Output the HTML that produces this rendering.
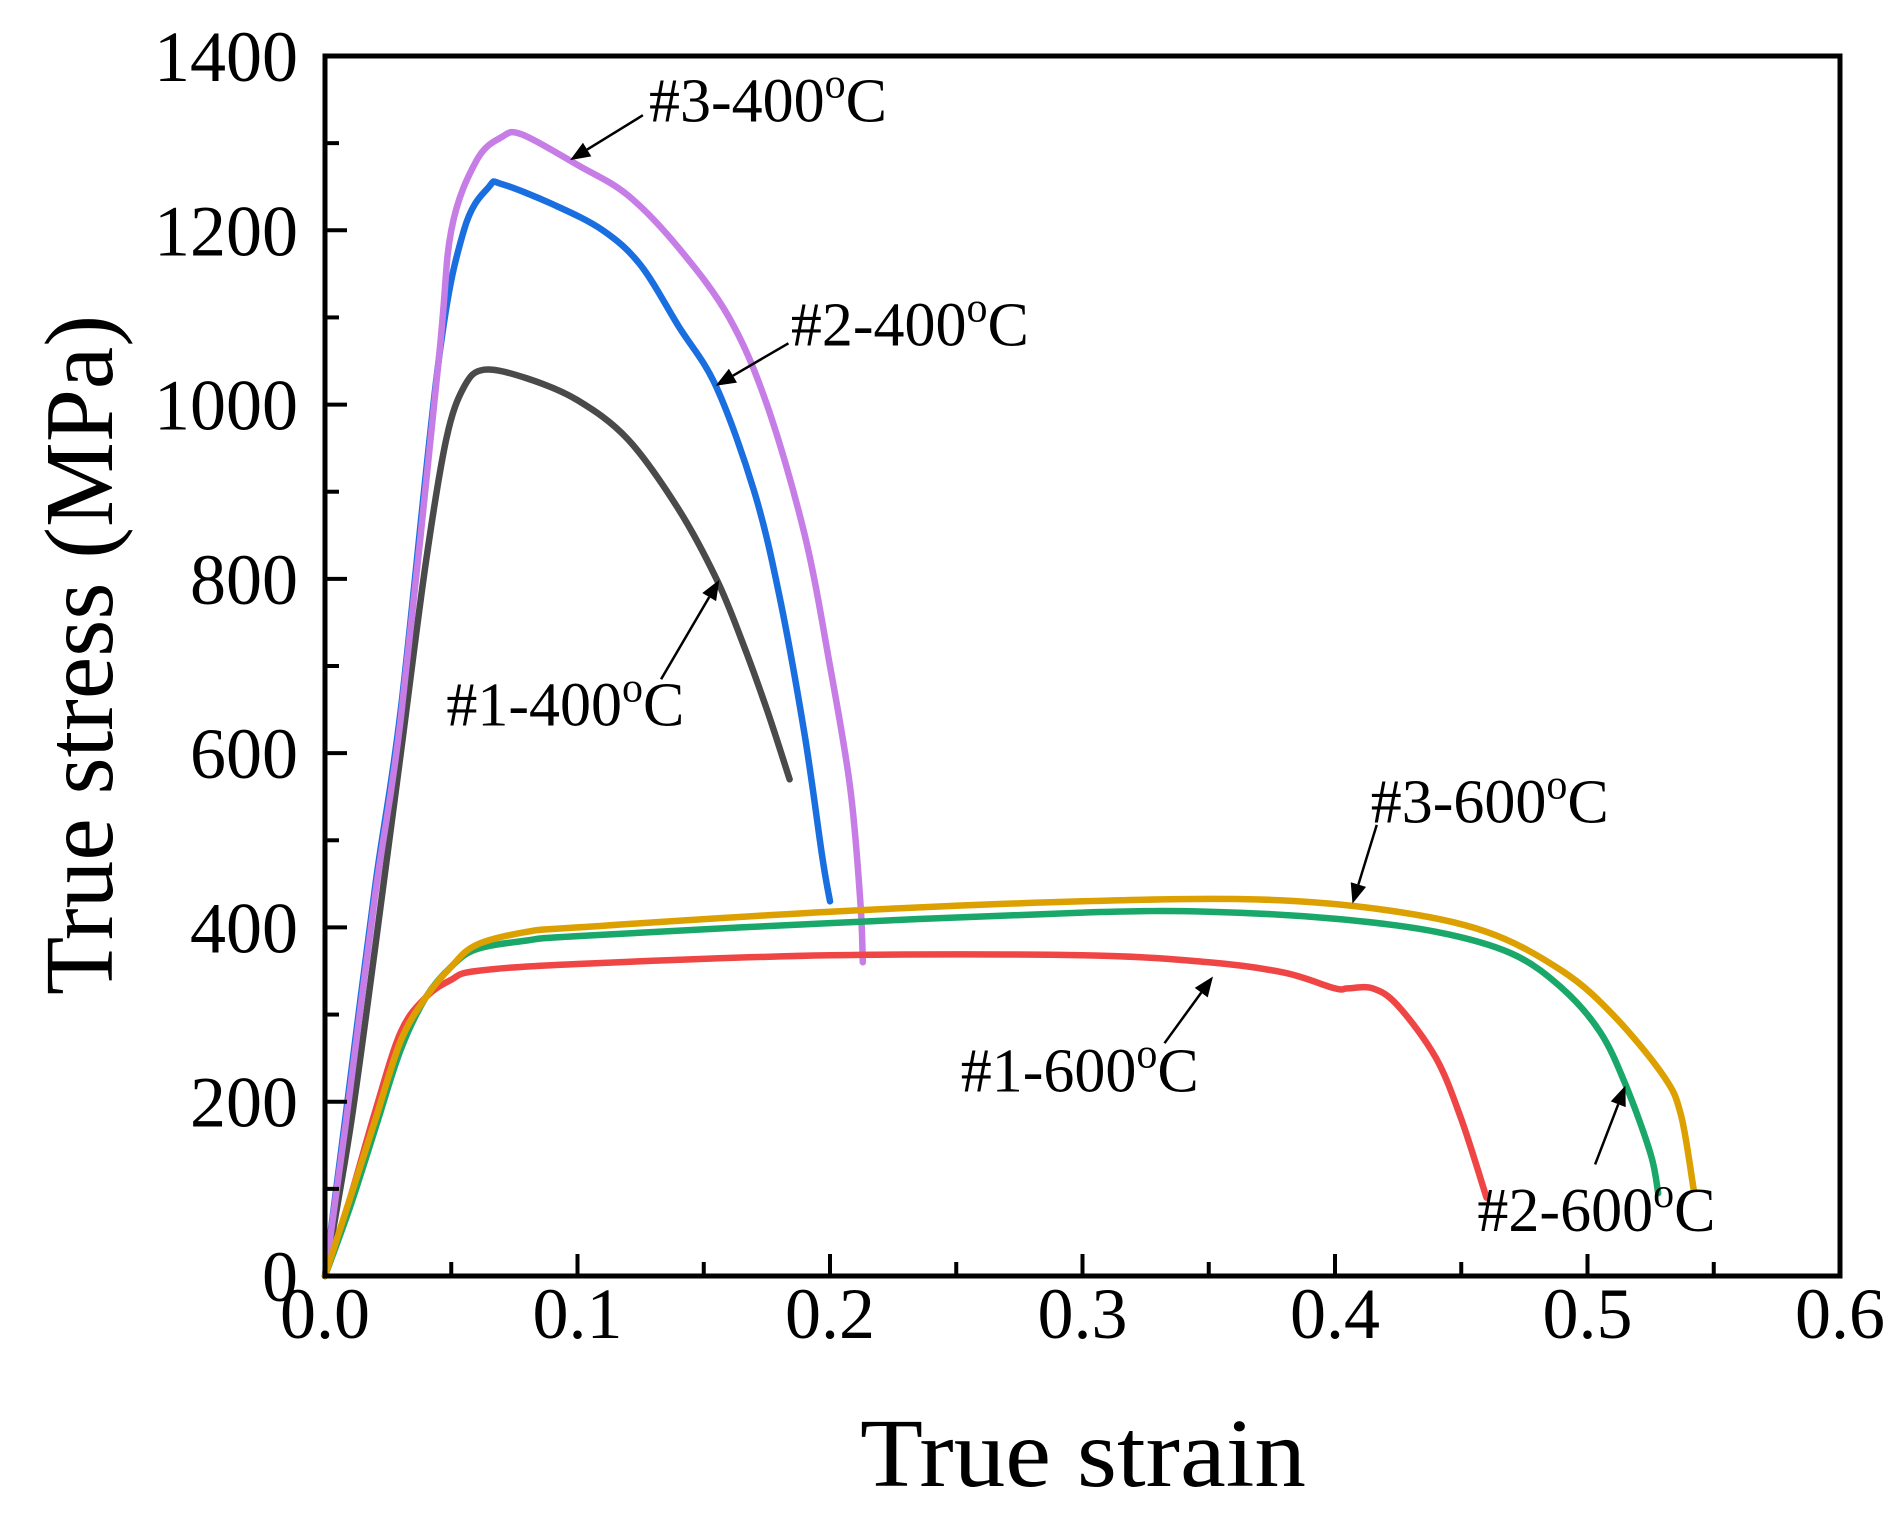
<!DOCTYPE html>
<html><head><meta charset="utf-8"><style>
html,body{margin:0;padding:0;background:#fff}
svg{display:block}
text{font-family:"Liberation Serif",serif;fill:#000}
</style></head><body>
<svg id="chart" width="1902" height="1515" viewBox="0 0 1902 1515" xmlns="http://www.w3.org/2000/svg">
<g id="marks"></g>
<g id="axes"></g>
<g id="labels"></g>
</svg>
<script>
const xTicks=[0,0.1,0.2,0.3,0.4,0.5,0.6];
const xTickLabels=["0.0","0.1","0.2","0.3","0.4","0.5","0.6"];
const yTicks=[0,200,400,600,800,1000,1200,1400];
const seriesNames=["#1-400","#2-400","#3-400","#1-600","#2-600","#3-600"];
const s1_400=[[0,0],[0.01,170],[0.02,380],[0.03,600],[0.04,820],[0.048,960],[0.055,1020],[0.063,1040],[0.08,1030],[0.1,1005],[0.12,960],[0.14,880],[0.155,800],[0.165,730],[0.175,650],[0.184,570]];
const s2_400=[[0,0],[0.008,180],[0.02,450],[0.03,650],[0.045,1050],[0.055,1200],[0.065,1250],[0.07,1253],[0.09,1230],[0.11,1200],[0.125,1160],[0.14,1090],[0.155,1020],[0.17,900],[0.18,780],[0.19,620],[0.197,480],[0.2,430]];
const s3_400=[[0,0],[0.008,170],[0.02,440],[0.03,640],[0.045,1050],[0.05,1200],[0.06,1280],[0.07,1307],[0.078,1310],[0.1,1275],[0.12,1240],[0.14,1180],[0.16,1100],[0.175,1000],[0.19,850],[0.2,700],[0.208,560],[0.212,430],[0.213,360]];
const s1_600=[[0,0],[0.01,90],[0.02,190],[0.03,280],[0.04,320],[0.05,340],[0.06,350],[0.1,358],[0.2,368],[0.3,368],[0.35,360],[0.38,348],[0.4,330],[0.405,330],[0.415,330],[0.425,310],[0.44,250],[0.45,180],[0.46,90]];
const s2_600=[[0,0],[0.01,80],[0.02,170],[0.03,260],[0.04,320],[0.05,355],[0.06,375],[0.08,385],[0.1,390],[0.2,405],[0.3,417],[0.35,418],[0.4,410],[0.44,395],[0.47,370],[0.49,330],[0.505,280],[0.515,220],[0.525,140],[0.528,95]];
const s3_600=[[0,0],[0.01,90],[0.02,180],[0.03,270],[0.04,320],[0.05,355],[0.06,380],[0.08,395],[0.1,400],[0.2,418],[0.3,430],[0.37,432],[0.42,420],[0.46,395],[0.49,350],[0.51,300],[0.53,230],[0.537,185],[0.542,100]];

const X0=325,X1=1840,Y0=1276,Y1=56;
const sx=v=>X0+(X1-X0)*v/0.6;
const sy=v=>Y0-(Y0-Y1)*v/1400;
const NS="http://www.w3.org/2000/svg";
const mk=(t,a,p)=>{const e=document.createElementNS(NS,t);for(const k in a)e.setAttribute(k,a[k]);p.appendChild(e);return e;};
const marks=document.getElementById('marks'),axes=document.getElementById('axes'),labels=document.getElementById('labels');

function smooth(d){
  const P=d.map(q=>[sx(q[0]),sy(q[1])]);
  let s='M'+P[0][0].toFixed(1)+' '+P[0][1].toFixed(1);
  for(let i=0;i<P.length-1;i++){
    const p0=P[Math.max(0,i-1)],p1=P[i],p2=P[i+1],p3=P[Math.min(P.length-1,i+2)];
    const c1=[p1[0]+(p2[0]-p0[0])/6,p1[1]+(p2[1]-p0[1])/6],c2=[p2[0]-(p3[0]-p1[0])/6,p2[1]-(p3[1]-p1[1])/6];
    s+=` C${c1[0].toFixed(1)} ${c1[1].toFixed(1)} ${c2[0].toFixed(1)} ${c2[1].toFixed(1)} ${p2[0].toFixed(1)} ${p2[1].toFixed(1)}`;
  }
  return s;
}
const series=[[s1_400,"#4a4a4a","curve-1-400c"],[s2_400,"#1a6fe0","curve-2-400c"],[s3_400,"#c77de6","curve-3-400c"],[s1_600,"#f04545","curve-1-600c"],[s2_600,"#1aa86a","curve-2-600c"],[s3_600,"#dca000","curve-3-600c"]];
series.forEach(([d,c,n])=>{
  const p=mk('path',{d:smooth(d),fill:'none',stroke:c,'stroke-width':6.5,'stroke-linejoin':'round','stroke-linecap':'round'},marks);
  
  
});

const frame=mk('rect',{x:X0,y:Y1,width:X1-X0,height:Y0-Y1,fill:'none',stroke:'#000','stroke-width':5},axes);


for(let v=0;v<=0.6001;v+=0.05){
  const major=Math.abs(v*10-Math.round(v*10))<1e-6;
  mk('line',{x1:sx(v),x2:sx(v),y1:Y0,y2:Y0-(major?22:14),stroke:'#000','stroke-width':4},axes);
}
for(let v=0;v<=1400;v+=100){
  const major=v%200===0;
  mk('line',{x1:X0,x2:X0+(major?22:14),y1:sy(v),y2:sy(v),stroke:'#000','stroke-width':4},axes);
}
xTicks.forEach((v,i)=>{
  const t=mk('text',{x:sx(v),y:1338,'font-size':72,'text-anchor':'middle'},labels);
  t.textContent=xTickLabels[i];
  
  
});
yTicks.forEach(v=>{
  const t=mk('text',{x:298,y:sy(v)+25,'font-size':72,'text-anchor':'end'},labels);
  t.textContent=String(v);
  
  
});
const xt=mk('text',{x:1083,y:1486,'font-size':98,'text-anchor':'middle',textLength:446,lengthAdjust:'spacingAndGlyphs'},labels);
xt.textContent='True strain';


const yt=mk('text',{x:0,y:0,'font-size':98,'text-anchor':'middle',transform:'translate(112,655) rotate(-90)',textLength:680,lengthAdjust:'spacingAndGlyphs'},labels);
yt.textContent='True stress (MPa)';



const k=1.213;
const ann=[["#3-","400",535,100,[530,95],[470,132],"label-3-400c"],["#2-","400",652,285,[650,283],[590,318],"label-2-400c"],["#1-","400",368,598,[545,560],[593,478],"label-1-400c"],["#3-","600",1130,678,[1135,680],[1115,745],"label-3-600c"],["#1-","600",792,900,[960,860],[1000,805],"label-1-600c"],["#2-","600",1218,1015,[1315,960],[1340,895],"label-2-600c"]];
ann.forEach(([a,b,x,y,p0,p1,n])=>{
  const t=mk('text',{x:x*k,y:y*k,'font-size':62},labels);
  t.innerHTML=a+b+'<tspan dy="-24" font-size="42">o</tspan><tspan dy="24">C</tspan>';
  
  
  const x0=p0[0]*k,y0=p0[1]*k,x1=p1[0]*k,y1=p1[1]*k;
  const ang=Math.atan2(y1-y0,x1-x0),L=20,W=8;
  const bx=x1-L*Math.cos(ang),by=y1-L*Math.sin(ang);
  mk('line',{x1:x0,y1:y0,x2:bx,y2:by,stroke:'#000','stroke-width':2.5},labels);
  const ar=mk('polygon',{points:`${x1},${y1} ${bx+W*Math.sin(ang)},${by-W*Math.cos(ang)} ${bx-W*Math.sin(ang)},${by+W*Math.cos(ang)}`,fill:'#000'},labels);
  
  
});
</script>
</body></html>
